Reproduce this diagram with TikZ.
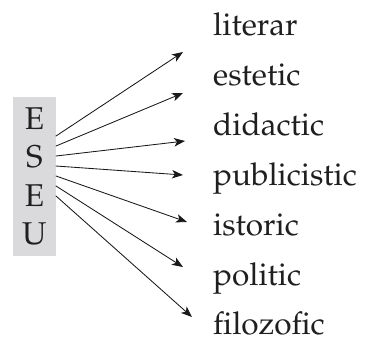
\documentclass[tikz,border=0pt]{standalone}
\usepackage[T1]{fontenc}
\usepackage{palatino}
\usetikzlibrary{arrows.meta,positioning,calc}
\definecolor{eseuGray}{RGB}{218, 218, 220}

\begin{document}
\begin{tikzpicture}[x=1pt, y=-1pt, line cap=round, line join=round,
    bigtext/.style={font=\fontsize{31.5}{38.2}\selectfont, text=black!88},
    arr/.style={-{Stealth[length=11pt, width=8.5pt, inset=3pt]}, line width=0.85pt, black!90}]
        \useasboundingbox (0,0) rectangle (371,341);
        % the gray column
        \node[bigtext, fill=eseuGray, minimum width=43pt, minimum height=159pt,
              inner sep=0pt, align=center] (box) at (34.5,176.5) {E\\S\\E\\U};
        % labels and arrows
        \foreach \name/\y/\tx/\ty [count=\i] in {literar/35/183/52, estetic/85/183/93,
              didactic/135/185/141, publicistic/185/183/175, istoric/235/187/222,
              politic/285/183/267, filozofic/334/192/317} {
            \node[bigtext, anchor=base west, inner sep=0pt] (\name) at (213,\y) {\name};
            \coordinate (src\i) at (56,126+10*\i);
            \coordinate (tip\i) at (\tx,\ty);
            \draw[arr] (src\i) -- (tip\i);
        }
    \end{tikzpicture}
\end{document}
